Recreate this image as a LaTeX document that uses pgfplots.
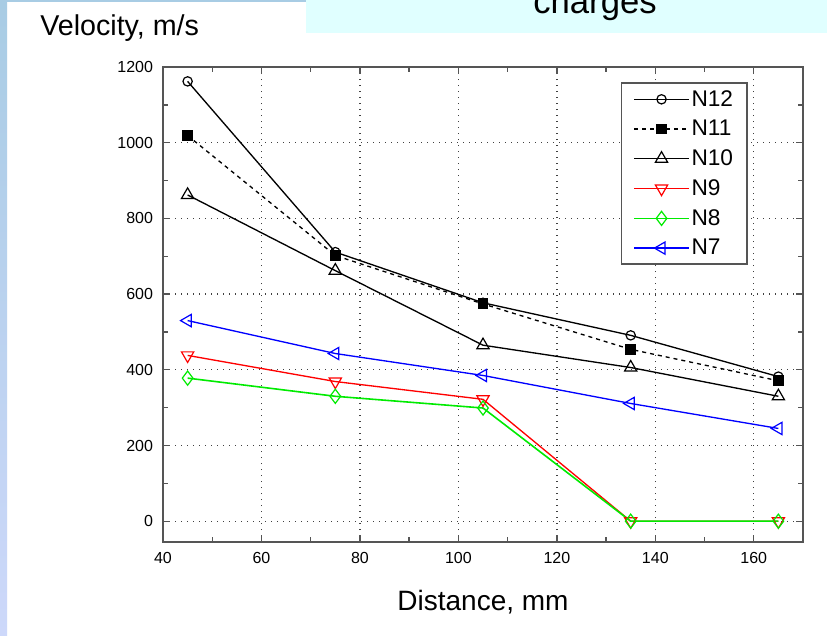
\documentclass[border=0pt]{standalone}
\usepackage{fontspec}
\setmainfont{Liberation Sans}
\usepackage{pgfplots}
\pgfplotsset{compat=1.18}

\definecolor{slideblue}{RGB}{168,204,228}
\definecolor{slideblue2}{RGB}{205,216,250}
\definecolor{boxcyan}{RGB}{224,255,255}
\definecolor{framegray}{RGB}{85,85,85}
\definecolor{n8green}{RGB}{0,235,0}

\begin{document}
\begin{tikzpicture}
  % page in pixel units of the reference (y downwards)
  \begin{scope}[x=0.75pt,y=-0.75pt]
    \useasboundingbox (0,0) rectangle (827,635);
    \fill[white] (0,0) rectangle (827,635);
    \shade[top color=slideblue, bottom color=slideblue2] (0,0) rectangle (7,635);
    \fill[slideblue] (0,0) rectangle (306,2.5);
    \fill[boxcyan] (306,0) rectangle (827,33);
    \begin{scope}
      \clip (306,0) rectangle (827,33);
      \node[anchor=base, font=\fontsize{26}{28}\selectfont, inner sep=0pt] at (595,14) {charges};
    \end{scope}
    \node[anchor=base west, font=\fontsize{21.5}{23}\selectfont, inner sep=0pt] at (40,36) {Velocity, m/s};
  \end{scope}

  \begin{axis}[
      at={(122.25pt,-406.5pt)}, anchor=south west,
      scale only axis,
      width=480pt, height=356.25pt,
      xmin=40, xmax=170,
      ymin=-55, ymax=1200,
      xtick={40,60,...,160},
      ytick={0,200,...,1200},
      minor x tick num=1,
      minor y tick num=1,
      tick align=inside,
      major tick length=5.5pt,
      minor tick length=3.5pt,
      every tick/.style={framegray, line width=1pt},
      axis line style={framegray, line width=1.6pt},
      grid=major,
      major grid style={gray!50!black, line width=1pt, dash pattern=on 1pt off 3.5pt},
      /pgf/number format/assume math mode=true,
      /pgf/number format/1000 sep={},
      tick label style={font=\fontsize{12}{13}\selectfont},
      xticklabel style={yshift=-4pt},
      yticklabel style={xshift=-4pt},
      xlabel={Distance, mm},
      xlabel style={font=\fontsize{21}{23}\selectfont, yshift=-13pt},
      legend cell align=left,
      legend style={
        at={(rel axis cs:0.914,0.968)}, anchor=north east,
        draw=framegray, line width=1.3pt, fill=white,
        font=\fontsize{17}{19}\selectfont,
        inner xsep=9pt, inner ysep=4pt,
        row sep=6pt,
        nodes={inner sep=1.5pt},
      },
      legend image code/.code={%
        \draw[mark repeat=2, mark phase=2, line width=1pt]
          plot coordinates {(0cm,0cm) (0.72cm,0cm) (1.44cm,0cm)};},
    ]
    \addplot[black, line width=1pt, mark=o, mark size=3.5pt, mark options={solid, line width=0.9pt}]
      coordinates {(45,1162) (75,711) (105,577) (135,491) (165,382)};
    \addlegendentry{N12}
    \addplot[black, line width=1pt, dashed, mark=square*, mark size=3.6pt, mark options={solid}]
      coordinates {(45,1019) (75,702) (105,574) (135,454) (165,371)};
    \addlegendentry{N11}
    \addplot[black, line width=1pt, mark=triangle, mark size=5.3pt, mark options={solid, line width=0.9pt}]
      coordinates {(45,862) (75,662) (105,465) (135,406) (165,330)};
    \addlegendentry{N10}
    \addplot[red, line width=1pt, mark=triangle, mark size=5.3pt, mark options={solid, rotate=180, line width=0.9pt}]
      coordinates {(45,438) (75,369) (105,322) (135,0) (165,0)};
    \addlegendentry{N9}
    \addplot[n8green, line width=1.2pt, mark=diamond, mark size=5.3pt, mark options={solid, line width=0.9pt}]
      coordinates {(45,378) (75,330) (105,299) (135,0) (165,0)};
    \addlegendentry{N8}
    \addplot[blue, line width=1pt, mark=triangle, mark size=5.3pt, mark options={solid, rotate=90, line width=0.9pt}]
      coordinates {(45,530) (75,443) (105,385) (135,311) (165,245)};
    \addlegendentry{N7}
  \end{axis}
\end{tikzpicture}
\end{document}
